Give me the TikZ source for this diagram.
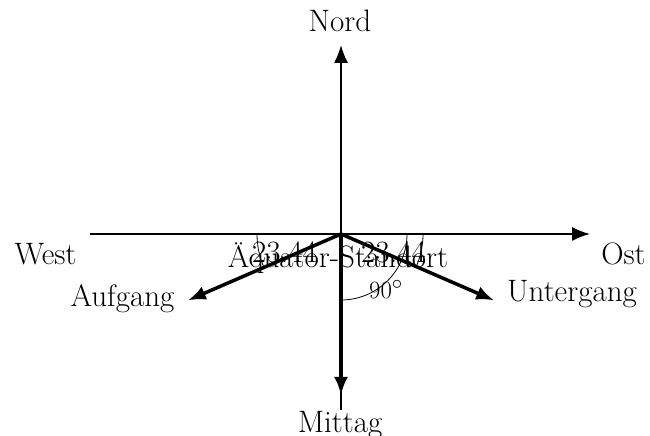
\documentclass[tikz,border=0pt]{standalone}
\usetikzlibrary{arrows.meta,calc}
\begin{document}
\begin{tikzpicture}[x=1pt,y=1pt,
  lbl/.style={font=\fontsize{31}{37}\selectfont, inner sep=0pt, anchor=base},
  thin/.style={line width=1.6pt},
  thick/.style={line width=3.5pt},
  tip/.style={-{Latex[length=18pt,width=14pt]}},
  anglearc/.style={line width=0.8pt}]
\useasboundingbox (0,0) rectangle (650,436);
\coordinate (O) at (341,202);
\coordinate (W) at (90,202);
\coordinate (E) at (590,202);
\coordinate (S0) at (341,26);
\coordinate (N) at (341,391);
\coordinate (M) at (341,41);
\coordinate (A) at ($(O)+(203.44:167)$);
\coordinate (U) at ($(O)+(-23.44:167)$);
% axes
\draw[thin,tip] (W) -- (E);
\draw[thin,tip] (S0) -- (N);
% thick arrows
\draw[thick,tip] (O) -- (M);
\draw[thick,tip] (O) -- (A);
\draw[thick,tip] (O) -- (U);
% arcs
\draw[anglearc] (O) ++(180:84) arc[start angle=180,end angle=203.44,radius=84];
\draw[anglearc] (O) ++(0:82) arc[start angle=0,end angle=-23.44,radius=82];
\draw[anglearc] (O) ++(270:66) arc[start angle=270,end angle=360,radius=66];
% labels
\node[lbl] (nord) at (340,404) {Nord};
\node[lbl] (mittag) at (340,4) {Mittag};
\node[lbl] (west) at (45.5,171) {West};
\node[lbl] (ost) at (623.5,171) {Ost};
\node[lbl] (auf) at (122.5,129) {Aufgang};
\node[lbl] (unter) at (572,134) {Untergang};
\node[lbl] (aeq) at (338,168) {Äquator-Standort};
\node[lbl] (al) at (284.5,173) {23.44};
\node[lbl] (ar) at (393.5,173) {23.44};
\node[lbl] (ninety) at (386,137) {$90^\circ$};
\end{tikzpicture}
\end{document}
